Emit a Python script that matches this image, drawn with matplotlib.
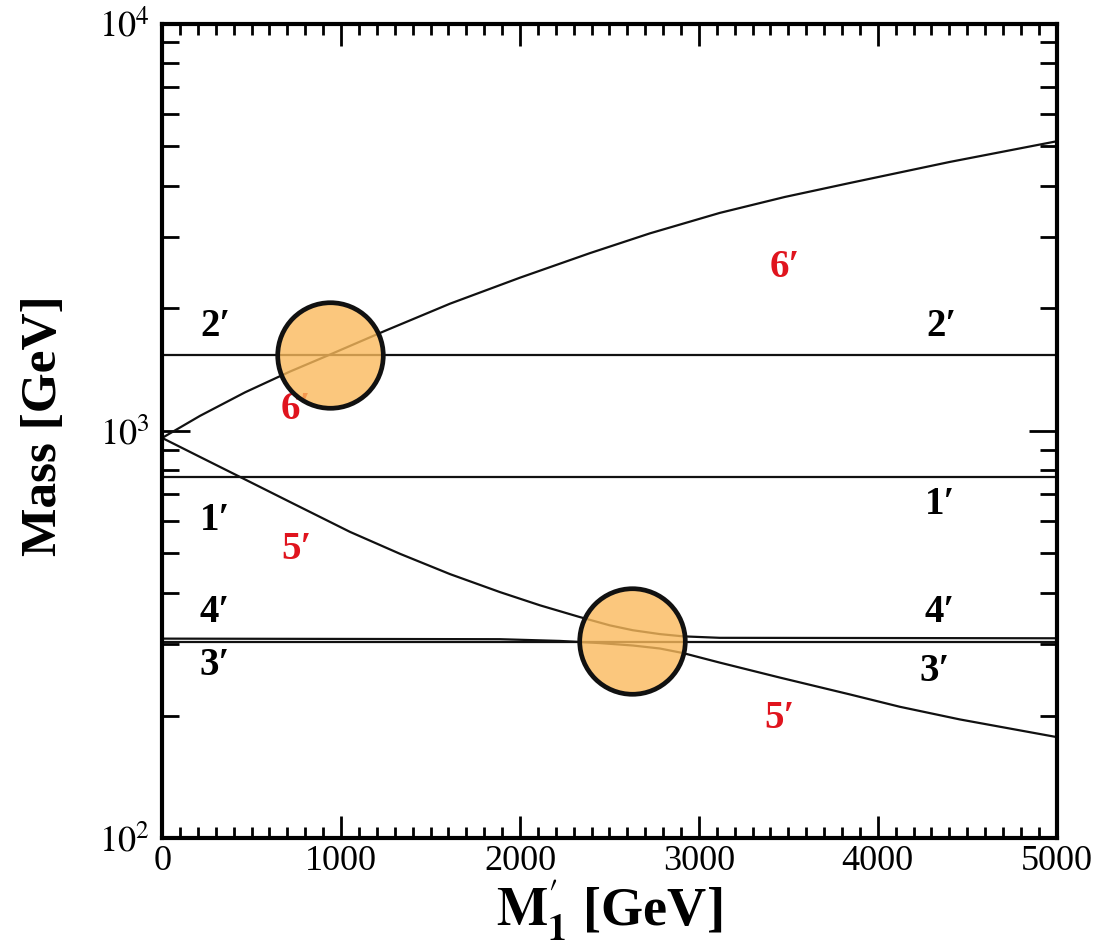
import numpy as np
import matplotlib.pyplot as plt
from matplotlib.ticker import FixedLocator, FixedFormatter, MultipleLocator

plt.rcParams['font.family'] = ['Liberation Serif', 'DejaVu Serif']
plt.rcParams['mathtext.fontset'] = 'stix'

# horizontal levels [GeV]
m1 = 770
m2 = 1540
m3 = 303

# rising branch (6')
x6 = [0, 212, 464, 715, 922, 1246, 1609, 2000, 2391, 2726, 3117, 3480, 3844, 4402, 5000]
y6 = [961, 1089, 1244, 1399, 1529, 1761, 2053, 2378, 2732, 3055, 3430, 3753, 4062, 4575, 5142]

# upper falling branch (5' at left -> 4' at right)
xa = [0, 212, 453, 715, 1050, 1330, 1609, 1888, 2112, 2335, 2503, 2631, 2782, 2911, 3117, 5000]
ya = [961, 863, 764, 669, 565, 499, 445, 402, 373, 349, 333, 324, 317, 313, 310.4, 309.6]

# lower branch (4' at left -> 5' at right)
xb = [0, 1888, 2223, 2447, 2631, 2782, 2911, 3117, 3453, 3844, 4123, 4458, 5000]
yb = [309, 308, 305, 301.3, 297.2, 292.2, 284.8, 269.8, 247.9, 225.4, 210.2, 195.7, 177.1]

# highlighted crossings
cx = [939, 2626]
cy = [1538, 305]

labels_black = [("2′", 296, 1803), ("2′", 4358, 1803),
                ("1′", 296, 604), ("1′", 4346, 658),
                ("4′", 296, 359), ("4′", 4346, 359),
                ("3′", 296, 266), ("3′", 4318, 256)]
labels_red = [("6′", 3480, 2512), ("6′", 749, 1127),
              ("5′", 749, 510), ("5′", 3453, 197)]

fig = plt.figure(figsize=(11.03, 9.46), dpi=100)
ax = fig.add_axes([0.147, 0.114, 0.811, 0.861])

lc = '#111111'
lw = 1.6
ax.plot([0, 5000], [m2, m2], color=lc, lw=lw)
ax.plot([0, 5000], [m1, m1], color=lc, lw=lw)
ax.plot([0, 5000], [m3, m3], color=lc, lw=lw)
ax.plot(x6, y6, color=lc, lw=lw)
ax.plot(xa, ya, color=lc, lw=lw)
ax.plot(xb, yb, color=lc, lw=lw)

for t, x, y in labels_black:
    ax.text(x, y, t, color='black', fontsize=28, fontweight='bold', ha='center', va='center')
for t, x, y in labels_red:
    ax.text(x, y, t, color='#E0141E', fontsize=28, fontweight='bold', ha='center', va='center')

ax.plot(cx, cy, 'o', ms=76, mfc=(0.98, 0.73, 0.36, 0.8), mec='#111111', mew=3.4, zorder=5)

ax.set_yscale('log')
ax.set_xlim(0, 5000)
ax.set_ylim(100, 10000)

ax.xaxis.set_major_locator(MultipleLocator(1000))
ax.xaxis.set_minor_locator(MultipleLocator(100))
ax.yaxis.set_major_locator(FixedLocator([100, 1000, 10000]))
ax.yaxis.set_major_formatter(FixedFormatter([r'$10^2$', r'$10^3$', r'$10^4$']))
ax.yaxis.set_minor_locator(FixedLocator([k * 10 ** e for e in (2, 3) for k in range(2, 10)]))
ax.yaxis.set_minor_formatter(FixedFormatter([]))

ax.tick_params(which='both', direction='in', top=True, right=True, width=2, labelsize=26)
ax.tick_params(axis='x', which='both', pad=5)
ax.tick_params(axis='y', which='both', pad=9)
ax.tick_params(axis='x', which='major', length=16)
ax.tick_params(axis='x', which='minor', length=8)
ax.tick_params(axis='y', which='major', length=20)
ax.tick_params(axis='y', which='minor', length=12)
for s in ax.spines.values():
    s.set_linewidth(3)

ax.set_ylabel('Mass [GeV]', fontsize=37, fontweight='bold')
ax.yaxis.set_label_coords(-0.106, 0.507)
ax.set_xlabel(r'$\mathbf{M}^{\prime}_{\mathbf{1}}$ [GeV]', fontsize=39, fontweight='bold', labelpad=0)

fig.savefig('out.png', dpi=100)
